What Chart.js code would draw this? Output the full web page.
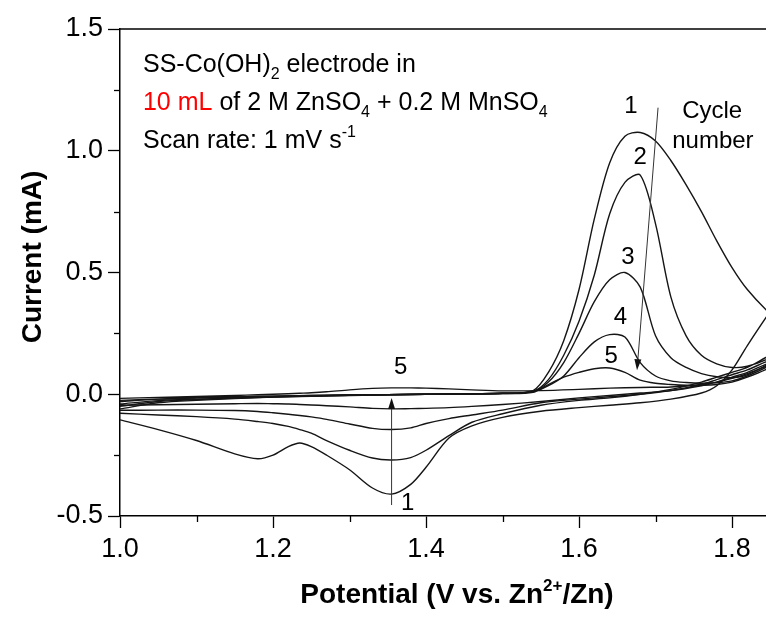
<!DOCTYPE html>
<html>
<head>
<meta charset="utf-8">
<script src="https://cdn.jsdelivr.net/npm/chart.js@4.4.1/dist/chart.umd.min.js"></script>
<style>
  html, body { margin: 0; padding: 0; background: #fff; }
  #wrap { width: 766px; height: 621px; }
</style>
</head>
<body>
<div id="wrap"><canvas id="cv"></canvas></div>
<script>
// potential grids (V vs Zn2+/Zn) for the anodic and cathodic sweeps
const potAnodic = [1.00, 1.05, 1.10, 1.20, 1.30, 1.40, 1.50, 1.54, 1.56, 1.58, 1.60, 1.62, 1.64, 1.66, 1.68, 1.70, 1.72, 1.74, 1.76, 1.78, 1.80, 1.82, 1.85];
const potCathodic = [1.85, 1.82, 1.80, 1.78, 1.76, 1.72, 1.68, 1.64, 1.60, 1.55, 1.50, 1.46, 1.43, 1.40, 1.38, 1.355, 1.33, 1.30, 1.27, 1.25, 1.235, 1.22, 1.20, 1.18, 1.15, 1.10, 1.05, 1.00];

// current (mA), one array per cycle and sweep
const anodic1 = [-0.03, -0.02, -0.015, -0.008, -0.003, 0.0, 0.004, 0.015, 0.09, 0.22, 0.43, 0.72, 0.95, 1.06, 1.075, 1.04, 0.96, 0.86, 0.75, 0.63, 0.52, 0.43, 0.33];
const anodic2 = [-0.06, -0.035, -0.025, -0.012, -0.005, 0.0, 0.004, 0.012, 0.06, 0.16, 0.30, 0.49, 0.74, 0.87, 0.90, 0.70, 0.40, 0.24, 0.16, 0.125, 0.11, 0.115, 0.15];
const anodic3 = [-0.05, -0.03, -0.022, -0.011, -0.004, 0.0, 0.004, 0.012, 0.05, 0.13, 0.25, 0.38, 0.47, 0.50, 0.44, 0.24, 0.15, 0.11, 0.085, 0.072, 0.068, 0.08, 0.13];
const anodic4 = [-0.04, -0.026, -0.02, -0.01, -0.004, 0.0, 0.003, 0.01, 0.035, 0.075, 0.15, 0.215, 0.245, 0.235, 0.13, 0.075, 0.055, 0.048, 0.045, 0.047, 0.055, 0.075, 0.12];
const anodic5 = [-0.025, -0.02, -0.015, -0.008, -0.003, 0.0, 0.003, 0.008, 0.04, 0.07, 0.09, 0.105, 0.108, 0.09, 0.058, 0.045, 0.04, 0.037, 0.037, 0.04, 0.05, 0.07, 0.11];

const cathodic1 = [0.34, 0.20, 0.10, 0.035, 0.005, -0.02, -0.035, -0.045, -0.055, -0.07, -0.095, -0.13, -0.18, -0.30, -0.37, -0.41, -0.385, -0.31, -0.25, -0.215, -0.20, -0.215, -0.25, -0.265, -0.245, -0.19, -0.145, -0.105];
const cathodic2 = [0.16, 0.11, 0.09, 0.07, 0.05, 0.02, 0.0, -0.015, -0.025, -0.045, -0.08, -0.115, -0.17, -0.23, -0.26, -0.27, -0.262, -0.23, -0.19, -0.16, -0.145, -0.132, -0.12, -0.112, -0.102, -0.092, -0.085, -0.078];
const cathodic3 = [0.14, 0.10, 0.08, 0.06, 0.04, 0.015, 0.0, -0.01, -0.02, -0.035, -0.065, -0.085, -0.10, -0.12, -0.138, -0.145, -0.14, -0.122, -0.103, -0.093, -0.087, -0.082, -0.076, -0.071, -0.067, -0.065, -0.065, -0.066];
const cathodic4 = [0.13, 0.09, 0.07, 0.05, 0.035, 0.015, 0.005, -0.005, -0.015, -0.03, -0.042, -0.05, -0.055, -0.058, -0.059, -0.06, -0.058, -0.052, -0.047, -0.044, -0.042, -0.04, -0.039, -0.038, -0.039, -0.041, -0.043, -0.045];
const cathodic5 = [0.12, 0.085, 0.065, 0.05, 0.04, 0.03, 0.028, 0.025, 0.02, 0.015, 0.014, 0.018, 0.022, 0.025, 0.026, 0.026, 0.024, 0.018, 0.01, 0.006, 0.004, 0.002, 0.0, -0.002, -0.005, -0.009, -0.013, -0.017];

const anodicCycles = [anodic1, anodic2, anodic3, anodic4, anodic5];
const cathodicCycles = [cathodic1, cathodic2, cathodic3, cathodic4, cathodic5];

// axis ticks
const xTicks = [1.0, 1.2, 1.4, 1.6, 1.8];
const xMinor = [1.1, 1.3, 1.5, 1.7];
const yTicks = [-0.5, 0.0, 0.5, 1.0, 1.5];
const yMinor = [-0.25, 0.25, 0.75, 1.25];

// labels placed in data coordinates
const cycleLabels = [
  { text: '1', x: 1.668, y: 1.181 },
  { text: '2', x: 1.680, y: 0.971 },
  { text: '3', x: 1.664, y: 0.564 },
  { text: '4', x: 1.654, y: 0.317 },
  { text: '5', x: 1.642, y: 0.156 },
  { text: '5', x: 1.367, y: 0.111 },
  { text: '1', x: 1.376, y: -0.449 },
  { text: 'Cycle', x: 1.774, y: 1.160 },
  { text: 'number', x: 1.775, y: 1.037 }
];
const arrows = [
  { x1: 1.7033, y1: 1.177, x2: 1.6758, y2: 0.099 },
  { x1: 1.355, y1: -0.455, x2: 1.355, y2: -0.015 }
];

const FONT = '"Liberation Sans", Arial, sans-serif';
const INK = '#151515';

const datasets = anodicCycles.map((an, i) => {
  const pts = potAnodic.map((x, j) => ({ x: x, y: an[j] }))
    .concat(potCathodic.map((x, j) => ({ x: x, y: cathodicCycles[i][j] })));
  return {
    label: 'Cycle ' + (i + 1),
    data: pts,
    borderColor: INK,
    borderWidth: 1.4,
    pointRadius: 0,
    fill: false,
    tension: 0.3
  };
});

// draws text made of parts, some in subscript / superscript
function drawRich(ctx, parts, x, y, size, weight) {
  let cx = x;
  parts.forEach(p => {
    const small = p.sub || p.sup;
    const fs = small ? Math.round(size * 0.62) : size;
    ctx.font = (weight || '') + ' ' + fs + 'px ' + FONT;
    ctx.fillStyle = p.color || '#000';
    let dy = 0;
    if (p.sub) dy = size * 0.28;
    if (p.sup) dy = -size * 0.42;
    ctx.fillText(p.t, cx, y + dy);
    cx += ctx.measureText(p.t).width;
  });
  return cx - x;
}

function richWidth(ctx, parts, size, weight) {
  let w = 0;
  parts.forEach(p => {
    const fs = (p.sub || p.sup) ? Math.round(size * 0.62) : size;
    ctx.font = (weight || '') + ' ' + fs + 'px ' + FONT;
    w += ctx.measureText(p.t).width;
  });
  return w;
}

const decor = {
  id: 'decor',
  afterDraw(chart) {
    const ctx = chart.ctx;
    const xs = chart.scales.x, ys = chart.scales.y;
    const area = chart.chartArea;
    ctx.save();

    // top frame line
    ctx.strokeStyle = '#000';
    ctx.lineWidth = 1.5;
    ctx.beginPath();
    ctx.moveTo(area.left, area.top);
    ctx.lineTo(area.right, area.top);
    ctx.stroke();

    // minor ticks
    ctx.lineWidth = 1.3;
    xMinor.forEach(v => {
      const px = Math.round(xs.getPixelForValue(v)) + 0.5;
      ctx.beginPath();
      ctx.moveTo(px, area.bottom);
      ctx.lineTo(px, area.bottom + 6);
      ctx.stroke();
    });
    yMinor.forEach(v => {
      const py = Math.round(ys.getPixelForValue(v)) + 0.5;
      ctx.beginPath();
      ctx.moveTo(area.left, py);
      ctx.lineTo(area.left - 6, py);
      ctx.stroke();
    });

    // arrows
    ctx.strokeStyle = '#333';
    ctx.fillStyle = '#111';
    ctx.lineWidth = 1;
    arrows.forEach(a => {
      const x1 = xs.getPixelForValue(a.x1), y1 = ys.getPixelForValue(a.y1);
      const x2 = xs.getPixelForValue(a.x2), y2 = ys.getPixelForValue(a.y2);
      const ang = Math.atan2(y2 - y1, x2 - x1);
      const len = 11, half = 3.5;
      const bx = x2 - len * Math.cos(ang), by = y2 - len * Math.sin(ang);
      ctx.beginPath();
      ctx.moveTo(x1, y1);
      ctx.lineTo(bx, by);
      ctx.stroke();
      ctx.beginPath();
      ctx.moveTo(x2, y2);
      ctx.lineTo(bx + half * Math.sin(ang), by - half * Math.cos(ang));
      ctx.lineTo(bx - half * Math.sin(ang), by + half * Math.cos(ang));
      ctx.closePath();
      ctx.fill();
    });

    // cycle labels
    ctx.fillStyle = '#000';
    ctx.font = '24px ' + FONT;
    ctx.textAlign = 'center';
    ctx.textBaseline = 'middle';
    cycleLabels.forEach(l => {
      ctx.fillText(l.text, xs.getPixelForValue(l.x), ys.getPixelForValue(l.y));
    });

    // info block
    ctx.textAlign = 'left';
    ctx.textBaseline = 'alphabetic';
    const tx = xs.getPixelForValue(1.030);
    drawRich(ctx, [{ t: 'SS-Co(OH)' }, { t: '2', sub: true }, { t: ' electrode in' }], tx, ys.getPixelForValue(1.325), 25);
    drawRich(ctx, [{ t: '10 mL', color: '#ff0000' }, { t: ' of 2 M ZnSO' }, { t: '4', sub: true },
      { t: ' + 0.2 M MnSO' }, { t: '4', sub: true }], tx, ys.getPixelForValue(1.169), 25);
    drawRich(ctx, [{ t: 'Scan rate: 1 mV s' }, { t: '-1', sup: true }], tx, ys.getPixelForValue(1.012), 25);

    // axis titles
    const xTitle = [{ t: 'Potential (V vs. Zn' }, { t: '2+', sup: true }, { t: '/Zn)' }];
    const w = richWidth(ctx, xTitle, 28, 'bold');
    drawRich(ctx, xTitle, 457 - w / 2, 603, 28, 'bold');

    ctx.translate(41, 257);
    ctx.rotate(-Math.PI / 2);
    ctx.font = 'bold 28px ' + FONT;
    ctx.textAlign = 'center';
    ctx.fillStyle = '#000';
    ctx.fillText('Current (mA)', 0, 0);

    ctx.restore();
  }
};

new Chart(document.getElementById('cv'), {
  type: 'line',
  data: { datasets: datasets },
  options: {
    responsive: true,
    maintainAspectRatio: false,
    animation: false,
    devicePixelRatio: 1,
    layout: { padding: { top: 29, right: 0, left: 0, bottom: 0 } },
    plugins: {
      legend: { display: false },
      tooltip: { enabled: false }
    },
    scales: {
      x: {
        type: 'linear',
        min: 1.0,
        max: 1.8444,
        afterFit: s => { s.height = 105; },
        afterBuildTicks: s => { s.ticks = xTicks.map(v => ({ value: v })); },
        ticks: {
          callback: v => v.toFixed(1),
          font: { family: FONT, size: 27 },
          color: '#000',
          padding: 5,
          maxRotation: 0,
          autoSkip: false
        },
        grid: { drawOnChartArea: false, drawTicks: true, tickLength: 12, color: '#000', tickWidth: 1.3 },
        border: { color: '#000', width: 1.5 }
      },
      y: {
        min: -0.5,
        max: 1.5,
        afterFit: s => { s.width = 120; },
        afterBuildTicks: s => { s.ticks = yTicks.map(v => ({ value: v })); },
        ticks: {
          callback: v => v.toFixed(1),
          font: { family: FONT, size: 27 },
          color: '#000',
          padding: 5
        },
        grid: { drawOnChartArea: false, drawTicks: true, tickLength: 12, color: '#000', tickWidth: 1.3 },
        border: { color: '#000', width: 1.5 }
      }
    }
  },
  plugins: [decor]
});
</script>
</body>
</html>
